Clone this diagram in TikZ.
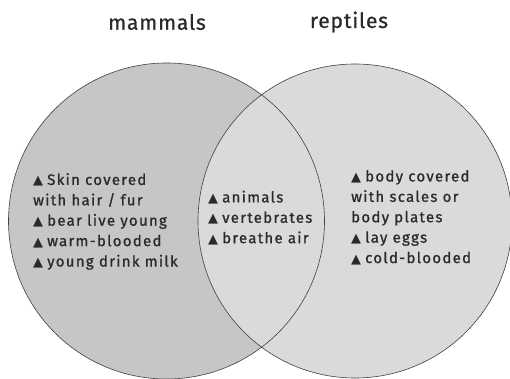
\documentclass[tikz,border=0pt]{standalone}
\usepackage{fontspec}
\setmainfont{Fira Sans}[FakeBold=1.2]
\newfontfamily\bodyfont{Fira Sans}[LetterSpace=8.5,FakeBold=0.9]
\newfontfamily\titlefont{Fira Sans}[LetterSpace=4,FakeBold=0.8]
\newfontfamily\symfont{DejaVu Sans}
\definecolor{leftfill}{HTML}{C6C6C6}
\definecolor{rightfill}{HTML}{DADADA}
\definecolor{edge}{HTML}{404040}
\definecolor{txt}{HTML}{2A2A2A}
\newcommand{\tri}{{\symfont\fontsize{13}{13}\selectfont▲}\hspace{4pt}}
\begin{document}
\begin{tikzpicture}[x=1pt,y=-1pt,
  setcircle/.style={draw=edge,line width=0.6pt},
  title/.style={font=\titlefont\fontsize{21}{24}\selectfont,text=txt,anchor=center,inner sep=0pt},
  items/.style={font=\bodyfont\fontsize{15}{20.4}\selectfont,text=txt,align=left,anchor=north west,inner sep=0pt}]
\useasboundingbox (0,0) rectangle (510,379);
\fill[leftfill] (166.5,221) circle (158);
\fill[rightfill] (355,221) circle (157);
\begin{scope}
\clip (166.5,221) circle (158);
\fill[rightfill] (355,221) circle (157);
\end{scope}
\draw[setcircle] (166.5,221) circle (158);
\draw[setcircle] (355,221) circle (157);
\node[title] (tm) at (157,22) {mammals};
\node[title] (tr) at (349,22) {reptiles};
\node[items] (lm) at (33,173) {\tri Skin covered\\with hair / fur\\\tri bear live young\\\tri warm-blooded\\\tri young drink milk};
\node[items] (lc) at (208,190.5) {\tri animals\\\tri vertebrates\\\tri breathe air};
\node[items] (lr) at (351,170) {\tri body covered\\with scales or\\body plates\\\tri lay eggs\\\tri cold-blooded};
\end{tikzpicture}
\end{document}
